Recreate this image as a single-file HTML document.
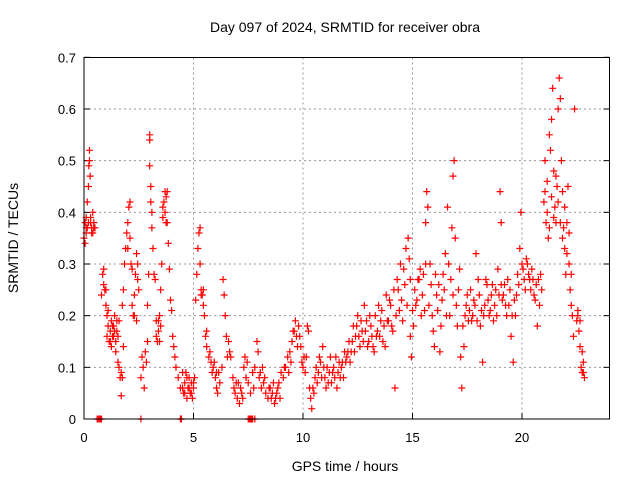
<!DOCTYPE html>
<html><head><meta charset="utf-8"><style>
body{margin:0;background:#fff}
svg{display:block;font-family:"Liberation Sans",sans-serif}
</style></head><body>
<svg id="chart" width="640" height="480">
<text x="345" y="32" text-anchor="middle" font-size="14">Day 097 of 2024, SRMTID for receiver obra</text>
<text x="345" y="471" text-anchor="middle" font-size="14">GPS time / hours</text>
<text transform="translate(18,238) rotate(-90)" text-anchor="middle" font-size="14">SRMTID / TECUs</text>
<g id="grid"></g><g id="axes"></g><g id="marks"></g>
<rect x="84" y="57.5" width="525.5" height="361.5" fill="none" stroke="#000" stroke-width="1"/>
</svg>
<script>
const xTicks=[0,5,10,15,20];
const yTicks=[0,0.1,0.2,0.3,0.4,0.5,0.6,0.7];
const yTickLabels=["0","0.1","0.2","0.3","0.4","0.5","0.6","0.7"];
const hours=[0.0,0.05,0.05,0.1,0.1,0.15,0.2,0.22,0.25,0.25,0.28,0.3,0.35,0.4,0.45,0.4,0.5,0.15,
0.8,0.85,0.9,0.9,0.95,1.0,1.05,1.05,1.1,1.15,1.2,1.25,1.3,1.35,1.4,1.45,1.5,1.55,1.6,1.65,1.7,1.7,1.75,1.6,1.75,1.8,
1.8,1.85,1.9,1.95,2.0,2.05,2.1,2.1,2.15,2.2,2.25,2.3,2.35,2.4,2.45,2.5,2.4,
2.6,2.65,2.7,2.75,2.8,2.85,2.9,2.9,2.95,3.0,3.0,3.0,3.05,3.05,3.1,3.1,3.15,3.2,3.25,3.3,3.35,3.4,3.45,3.5,3.5,3.55,3.6,3.65,3.7,3.7,3.75,3.8,3.85,3.9,3.95,4.0,4.05,4.1,4.15,4.2,4.3,
4.4,4.5,4.55,4.6,4.7,4.75,4.8,4.85,4.9,4.95,5.0,5.05,
5.1,5.15,5.2,5.25,5.3,5.3,5.35,5.4,5.45,5.5,5.55,5.6,5.7,5.8,5.9,6.0,6.05,6.1,6.15,6.2,6.3,6.35,6.4,6.45,6.5,6.6,6.7,6.8,6.85,6.9,7.0,7.05,7.1,7.15,7.2,7.3,7.35,7.4,
7.5,7.6,7.7,7.8,7.9,7.95,8.0,8.1,8.2,8.3,8.4,8.5,8.6,8.7,8.8,8.9,9.0,9.1,9.2,9.3,9.4,9.5,9.6,9.65,9.7,9.8,9.9,10.0,10.05,10.1,10.2,10.25,10.3,10.35,10.4,10.5,10.55,10.6,10.7,10.8,10.9,11.0,11.05,11.1,11.2,11.3,11.4,11.5,11.6,11.7,11.8,11.9,
12.0,12.1,12.2,12.3,12.4,12.5,12.6,12.7,12.8,12.9,13.0,13.1,13.2,13.3,13.4,13.5,13.6,13.7,13.8,13.9,14.0,14.1,14.2,14.3,14.35,14.4,14.5,14.6,14.7,14.8,14.85,14.9,14.95,
15.0,15.1,15.2,15.3,15.4,15.5,15.6,15.65,15.7,15.8,15.9,16.0,16.1,16.2,16.3,16.4,16.5,16.6,16.65,16.7,16.8,16.85,16.9,16.95,17.0,17.1,17.2,17.25,17.3,17.4,17.5,17.6,17.7,17.8,17.9,18.0,18.1,18.2,18.3,18.4,18.5,18.6,18.7,18.8,18.9,19.0,19.05,19.1,19.2,19.3,19.4,19.5,19.6,19.7,19.75,19.8,19.9,19.95,20.0,20.1,20.2,20.3,20.4,20.5,20.6,20.7,20.8,20.9,
21.0,21.05,21.1,21.15,21.2,21.25,21.3,21.35,21.4,21.45,21.5,21.55,21.6,21.65,21.7,21.75,21.8,21.85,21.9,21.95,22.0,22.05,22.1,22.15,22.2,22.25,22.3,22.35,22.4,22.5,22.55,22.6,22.65,22.7,22.75,22.8,22.85,
0.6,0.65,0.7,0.75,0.8,2.6,4.4,4.45,7.5,7.55,7.6,7.65,7.7,7.8,
0.1,0.2,0.3,0.35,0.45,1.0,1.1,1.2,1.3,1.4,1.5,1.35,1.25,1.45,1.55,2.0,2.2,2.3,2.45,3.3,3.4,3.45,3.6,3.75,3.8,
4.5,4.6,4.7,4.8,4.9,5.0,4.65,5.35,5.45,5.6,5.75,5.85,5.95,6.05,6.55,6.65,6.95,7.25,7.45,
7.75,8.05,8.15,8.25,8.45,8.55,8.65,8.75,8.85,8.95,9.15,9.35,9.45,9.55,9.75,9.85,9.95,10.15,10.45,10.65,10.75,10.85,10.95,11.15,11.25,11.35,11.45,11.55,11.65,11.75,11.85,11.95,
12.05,12.15,12.25,12.35,12.45,12.55,12.65,12.75,12.85,12.95,13.05,13.15,13.25,13.35,13.45,13.55,13.65,13.75,13.85,13.95,14.05,14.15,14.25,14.45,14.55,14.65,14.75,14.9,
15.05,15.15,15.25,15.35,15.45,15.55,15.6,15.75,15.85,15.95,16.05,16.15,16.25,16.35,16.45,16.55,16.75,16.85,17.05,17.15,17.35,17.45,17.55,17.65,17.75,17.85,17.95,18.05,18.15,18.25,18.35,18.45,18.55,18.65,18.75,18.85,18.95,19.05,19.15,19.25,19.35,19.45,19.55,19.65,19.85,20.05,20.15,20.25,20.35,20.45,20.55,20.65,20.75,20.85,
21.05,21.15,21.25,21.35,21.45,21.55,21.65,21.75,21.85,21.95,22.05,22.15,22.25,22.55,22.65,22.75,22.8];
const tec=[.35,.34,.38,.36,.39,.37,.45,.49,.5,.52,.47,.38,.37,.36,.38,.40,.37,.42,
.24,.28,.29,.26,.25,.22,.2,.16,.18,.15,.17,.19,.16,.18,.2,.15,.17,.16,.1,.08,.045,.09,.08,.19,.22,.14,
.25,.3,.33,.36,.38,.41,.42,.35,.3,.22,.2,.24,.28,.32,.27,.25,.19,
.08,.12,.1,.06,.13,.11,.15,.22,.28,.55,.54,.49,.45,.42,.4,.37,.33,.28,.27,.19,.15,.17,.2,.18,.25,.3,.39,.42,.44,.4,.43,.38,.34,.29,.23,.21,.16,.14,.12,.1,.08,
.06,.09,.05,.07,.04,.06,.08,.05,.07,.04,.06,.08,
.23,.28,.33,.36,.37,.3,.25,.24,.22,.2,.16,.14,.12,.11,.1,.08,.06,.05,.09,.07,.1,.27,.24,.2,.16,.15,.12,.08,.06,.05,.04,.07,.03,.06,.05,.1,.12,.08,
.07,.05,.09,.1,.15,.13,.08,.06,.07,.05,.04,.06,.05,.03,.05,.07,.09,.08,.1,.12,.13,.15,.17,.19,.16,.18,.14,.1,.12,.09,.18,.17,.06,.04,.02,.05,.08,.1,.09,.11,.14,.08,.06,.1,.09,.07,.1,.12,.09,.08,.11,.13,
.12,.15,.13,.18,.16,.2,.14,.17,.22,.19,.15,.18,.14,.2,.17,.16,.21,.18,.24,.19,.22,.17,.06,.27,.25,.21,.23,.29,.33,.35,.31,.16,.12,
.21,.25,.23,.27,.2,.28,.38,.44,.41,.3,.2,.14,.24,.26,.18,.28,.32,.41,.3,.2,.37,.47,.5,.35,.22,.25,.12,.06,.18,.2,.24,.21,.19,.23,.32,.27,.18,.11,.22,.26,.2,.24,.19,.25,.29,.44,.38,.23,.26,.2,.22,.16,.11,.2,.24,.28,.33,.4,.3,.27,.31,.28,.25,.27,.23,.18,.22,.25,
.42,.5,.38,.46,.35,.55,.52,.58,.64,.48,.41,.38,.45,.6,.66,.62,.5,.44,.37,.33,.28,.38,.45,.3,.25,.22,.2,.16,.6,.19,.21,.17,.14,.1,.09,.11,.08,
0,0,0,0,0,0,0,0,0,0,0,0,0,0,
.37,.38,.39,.36,.37,.25,.21,.15,.18,.17,.19,.16,.14,.13,.11,.33,.29,.2,.3,.16,.19,.15,.41,.38,.44,
.06,.05,.08,.06,.05,.07,.09,.24,.25,.17,.13,.09,.11,.09,.12,.13,.07,.04,.11,
.06,.09,.1,.08,.06,.04,.07,.04,.06,.04,.1,.09,.11,.17,.14,.16,.11,.12,.06,.07,.12,.08,.1,.07,.12,.09,.08,.06,.11,.1,.08,.11,
.13,.11,.15,.13,.18,.16,.19,.15,.17,.14,.2,.16,.13,.16,.22,.19,.15,.14,.19,.23,.18,.25,.2,.3,.19,.26,.22,.27,
.18,.22,.27,.29,.24,.21,.3,.22,.26,.17,.28,.21,.13,.23,.25,.2,.27,.24,.18,.29,.14,.22,.19,.25,.2,.22,.19,.24,.21,.2,.27,.23,.21,.26,.22,.2,.24,.26,.24,.22,.27,.25,.2,.23,.26,.29,.25,.3,.27,.29,.24,.26,.27,.28,
.44,.4,.37,.43,.39,.47,.42,.38,.35,.41,.32,.36,.28,.2,.19,.13,.09];
const X0=84,XS=21.9,Y0=419,YS=516.7;
function xPos(h){return X0+h*XS;}
function yPos(v){return Y0-v*YS;}
const NS="http://www.w3.org/2000/svg";
const grid=document.getElementById('grid'),axes=document.getElementById('axes'),marks=document.getElementById('marks');
function mk(tag,attrs,parent){const e=document.createElementNS(NS,tag);for(const k in attrs)e.setAttribute(k,attrs[k]);parent.appendChild(e);return e;}
xTicks.forEach(t=>{const x=xPos(t);
 if(t>0){const g=mk('line',{x1:x,x2:x,y1:57.5,y2:419,stroke:'#999','stroke-dasharray':'2,3'},grid);
 
 }
 const tk=mk('line',{x1:x,x2:x,y1:419,y2:413,stroke:'#000'},axes);
 
 
 const tx=mk('text',{x:x,y:442,'text-anchor':'middle','font-size':'13'},axes);tx.textContent=String(t);
 
 
});
yTicks.forEach((t,i)=>{const y=yPos(t);
 if(t>0&&t<0.7){const g=mk('line',{x1:84,x2:609.5,y1:y,y2:y,stroke:'#999','stroke-dasharray':'2,3'},grid);
 
 }
 const tk=mk('line',{x1:84,x2:90,y1:y,y2:y,stroke:'#000'},axes);
 
 
 const tk2=mk('line',{x1:603.5,x2:609.5,y1:y,y2:y,stroke:'#000'},axes);
 
 
 const tx=mk('text',{x:76,y:y+5,'text-anchor':'end','font-size':'13'},axes);tx.textContent=yTickLabels[i];
 
 
});
hours.forEach((h,i)=>{const x=xPos(h),y=yPos(tec[i]);
 const p=mk('path',{d:`M${x-3.5},${y}H${x+3.5}M${x},${y-3.5}V${y+3.5}`,stroke:'#f00','stroke-width':'1.2',fill:'none'},marks);
 
 
});
</script>
</body></html>
